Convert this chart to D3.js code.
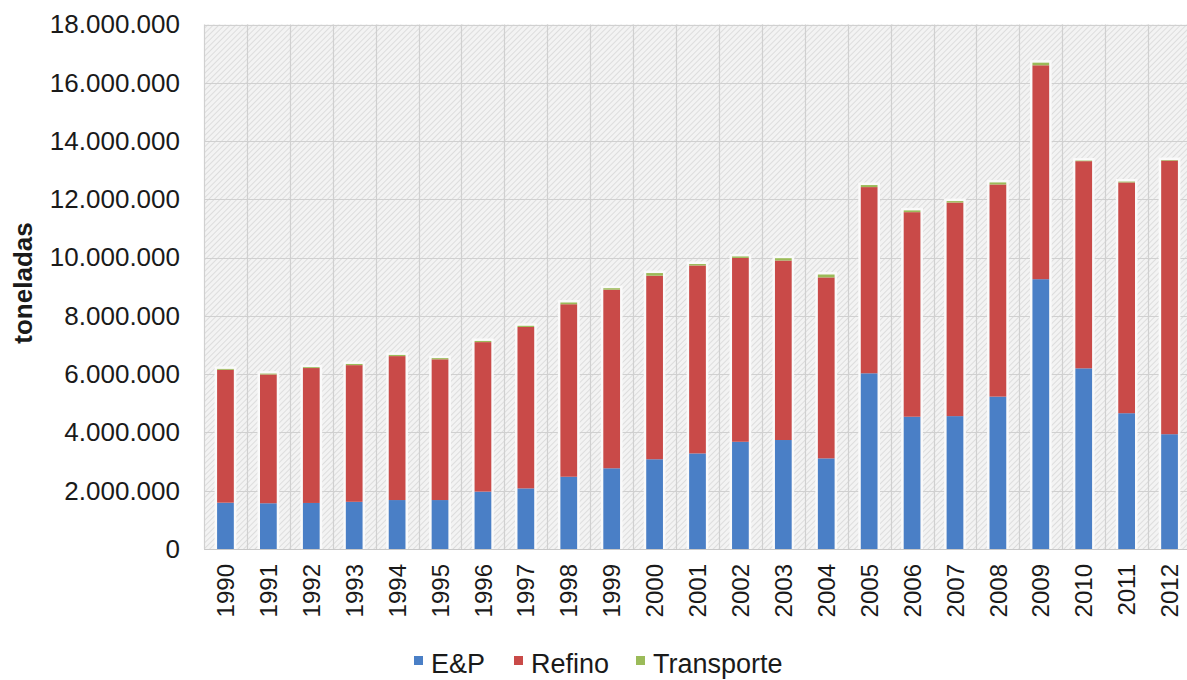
<!DOCTYPE html>
<html>
<head>
<meta charset="utf-8">
<script src="https://cdn.jsdelivr.net/npm/d3@7"></script>
<style>
  html, body { margin: 0; padding: 0; background: #ffffff; }
  svg { display: block; font-family: "Liberation Sans", Arial, sans-serif; }
</style>
</head>
<body>
<svg id="chart" width="1187" height="680"></svg>
<script>
// Resíduos gerados por segmento (toneladas), 1990–2012
const years = ["1990","1991","1992","1993","1994","1995","1996","1997","1998","1999","2000","2001",
               "2002","2003","2004","2005","2006","2007","2008","2009","2010","2011","2012"];
const ep         = [1590000,1570000,1580000,1620000,1680000,1680000,1970000,2080000,2480000,2770000,3080000,3280000,
                    3680000,3740000,3110000,6030000,4540000,4560000,5230000,9260000,6200000,4660000,3940000];
const refino     = [4560000,4420000,4630000,4690000,4940000,4830000,5130000,5540000,5920000,6130000,6300000,6450000,
                    6310000,6160000,6210000,6390000,7020000,7330000,7280000,7340000,7110000,7920000,9390000];
const transporte = [30000,30000,30000,40000,40000,40000,40000,40000,60000,50000,90000,50000,
                    50000,80000,100000,70000,60000,50000,70000,90000,20000,30000,20000];
const seriesNames = ["E&P", "Refino", "Transporte"];
const seriesColors = ["#4a7fc6", "#c94a48", "#9bbb59"];
const yTicks = [0,2000000,4000000,6000000,8000000,10000000,12000000,14000000,16000000,18000000];

const svg = d3.select("#chart");
const plotLeft = 204, plotRight = 1191, plotTop = 24.5, plotBottom = 549;

const x = d3.scaleBand().domain(years).range([plotLeft, plotRight]).paddingInner(0.61).paddingOuter(0.305);
const xCat = d3.scaleBand().domain(years).range([plotLeft, plotRight]).padding(0);
const y = d3.scaleLinear().domain([0, 18000000]).range([plotBottom, plotTop]);

const ptBR = d3.formatLocale({ decimal: ",", thousands: ".", grouping: [3], currency: ["", ""] });
const fmt = ptBR.format(",d");

// hatched plot background
const defs = svg.append("defs");
const pat = defs.append("pattern")
  .attr("id", "hatch").attr("patternUnits", "userSpaceOnUse")
  .attr("width", 4).attr("height", 4)
  .attr("patternTransform", "rotate(45)");
pat.append("rect").attr("width", 4).attr("height", 4).attr("fill", "#f3f3f3");
pat.append("line").attr("x1", 0).attr("y1", 0).attr("x2", 0).attr("y2", 4)
  .attr("stroke", "#d2d2d2").attr("stroke-width", 1.3);

svg.append("rect")
  .attr("x", plotLeft).attr("y", plotTop).attr("width", plotRight - plotLeft).attr("height", plotBottom - plotTop)
  .attr("fill", "url(#hatch)");

// horizontal gridlines
svg.append("g").selectAll("line").data(yTicks).join("line")
  .attr("x1", plotLeft).attr("x2", plotRight)
  .attr("y1", d => Math.round(y(d)) + 0.5).attr("y2", d => Math.round(y(d)) + 0.5)
  .attr("stroke", "#d0d0d0").attr("stroke-width", 1.2);

// vertical gridlines at category boundaries
svg.append("g").selectAll("line").data(years).join("line")
  .attr("x1", d => Math.round(xCat(d)) + 0.5).attr("x2", d => Math.round(xCat(d)) + 0.5)
  .attr("y1", plotTop).attr("y2", plotBottom)
  .attr("stroke", "#d0d0d0").attr("stroke-width", 1.2);

// stacked data
const rows = years.map((yr, i) => ({ year: yr, "E&P": ep[i], "Refino": refino[i], "Transporte": transporte[i] }));
const stack = d3.stack().keys(seriesNames)(rows);

// light halo around each column
svg.append("g").selectAll("rect").data(rows).join("rect")
  .attr("x", d => x(d.year) - 2.5)
  .attr("width", x.bandwidth() + 5)
  .attr("y", d => y(d["E&P"] + d["Refino"] + d["Transporte"]) - 2.5)
  .attr("height", d => plotBottom - y(d["E&P"] + d["Refino"] + d["Transporte"]) + 2.5)
  .attr("fill", "#fafafa");

svg.append("g").selectAll("g").data(stack).join("g")
  .attr("fill", (d, i) => seriesColors[i])
  .selectAll("rect").data(d => d).join("rect")
  .attr("x", d => x(d.data.year))
  .attr("width", x.bandwidth())
  .attr("y", d => y(d[1]))
  .attr("height", d => y(d[0]) - y(d[1]));

// baseline
svg.append("line").attr("x1", plotLeft).attr("x2", plotRight)
  .attr("y1", plotBottom + 0.5).attr("y2", plotBottom + 0.5)
  .attr("stroke", "#c8c8c8").attr("stroke-width", 1.2);

// y axis
const yAxis = svg.append("g")
  .attr("transform", `translate(${plotLeft},0)`)
  .call(d3.axisLeft(y).tickValues(yTicks).tickFormat(fmt).tickSize(0).tickPadding(24));
yAxis.select(".domain").attr("stroke", "#d0d0d0");
yAxis.selectAll("text").attr("font-size", 26).attr("fill", "#1a1a1a")
  .attr("font-family", "'Liberation Sans', Arial, sans-serif");

// x axis labels, rotated
const xAxis = svg.append("g")
  .attr("transform", `translate(0,${plotBottom})`)
  .call(d3.axisBottom(x).tickSize(0).tickPadding(0));
xAxis.select(".domain").remove();
xAxis.selectAll("text")
  .attr("font-size", 24).attr("fill", "#1a1a1a")
  .attr("font-family", "'Liberation Sans', Arial, sans-serif")
  .attr("text-anchor", "end")
  .attr("transform", "translate(0,15) rotate(-90)")
  .attr("x", 0).attr("y", 0).attr("dy", "0.36em");

// y axis title
svg.append("text")
  .attr("transform", "translate(32,283) rotate(-90)")
  .attr("text-anchor", "middle")
  .attr("font-size", 26).attr("font-weight", "bold").attr("fill", "#1a1a1a")
  .text("toneladas");

// legend
const legendX = [414, 514, 636];
const legend = svg.append("g").selectAll("g").data(seriesNames).join("g")
  .attr("transform", (d, i) => `translate(${legendX[i]},0)`);
legend.append("rect").attr("x", 0).attr("y", 656).attr("width", 9).attr("height", 9)
  .attr("fill", (d, i) => seriesColors[i]);
legend.append("text").attr("x", 17).attr("y", 673)
  .attr("font-size", 27).attr("fill", "#1a1a1a")
  .text(d => d);
</script>
</body>
</html>
